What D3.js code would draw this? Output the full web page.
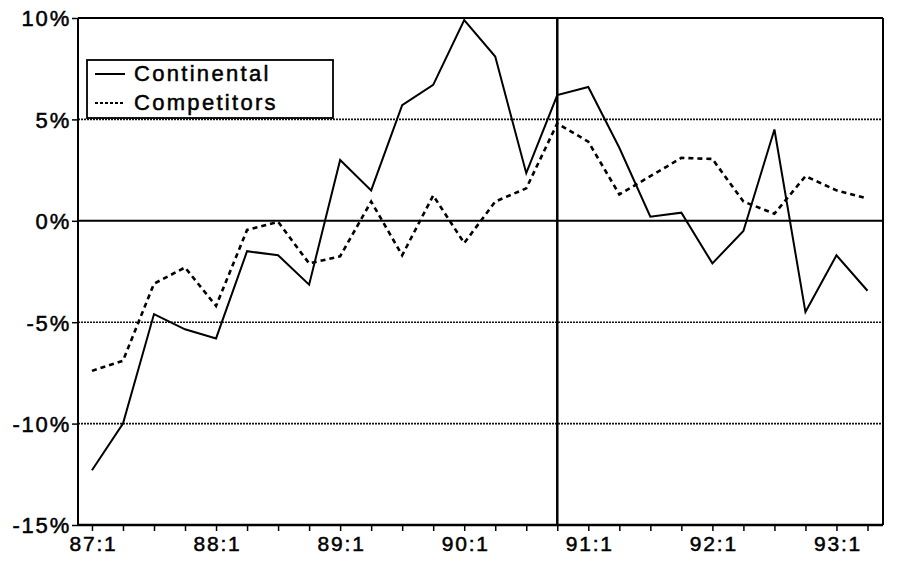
<!DOCTYPE html>
<html>
<head>
<meta charset="utf-8">
<script src="https://cdn.jsdelivr.net/npm/d3@7"></script>
<style>
  body { margin: 0; background: #fff; }
  svg text { font-family: "Liberation Sans", Arial, sans-serif; fill: #000; stroke: #000; stroke-width: 0.5px; }
</style>
</head>
<body>
<div class="chart"></div>
<script>
// quarters 87:1 .. 93:2
var quarters = ["87:1","87:2","87:3","87:4","88:1","88:2","88:3","88:4",
                "89:1","89:2","89:3","89:4","90:1","90:2","90:3","90:4",
                "91:1","91:2","91:3","91:4","92:1","92:2","92:3","92:4",
                "93:1","93:2"];
var continental = [-12.3, -10.0, -4.6, -5.35, -5.8, -1.5, -1.7, -3.15,
                   3.0, 1.5, 5.7, 6.7, 9.9, 8.1, 2.35, 6.2,
                   6.6, 3.6, 0.2, 0.4, -2.1, -0.5, 4.5, -4.5,
                   -1.7, -3.45];
var competitors = [-7.4, -6.9, -3.1, -2.3, -4.2, -0.45, -0.05, -2.1,
                   -1.75, 0.95, -1.7, 1.25, -1.1, 0.95, 1.6, 4.8,
                   3.9, 1.3, 2.2, 3.1, 3.05, 0.95, 0.35, 2.2,
                   1.5, 1.1];
var yTicks = [-15, -10, -5, 0, 5, 10];
var dottedGrid = [5, -5, -10];
var markerQuarter = "90:4";
var seriesNames = ["Continental", "Competitors"];

var svgWidth = 903;
var svgHeight = 565;
var margin = {left: 78, right: 20, top: 18, bottom: 40};

var svg = d3.select(".chart")
  .append("svg")
  .attr("width", svgWidth)
  .attr("height", svgHeight);

var x = d3.scaleLinear()
  .domain([-0.45, quarters.length - 0.5])
  .range([margin.left, svgWidth - margin.right]);
var y = d3.scaleLinear()
  .domain([-15, 10])
  .range([svgHeight - margin.bottom, margin.top]);

var x0 = x.range()[0], x1 = x.range()[1];
var yTop = y(10), yBot = y(-15);

// dotted grid lines
svg.selectAll(".grid")
  .data(dottedGrid)
  .enter()
  .append("line")
  .attr("x1", x0).attr("x2", x1)
  .attr("y1", d => y(d)).attr("y2", d => y(d))
  .attr("stroke", "#111")
  .attr("stroke-width", 1.6)
  .attr("stroke-dasharray", "2,1");

// zero line
svg.append("line")
  .attr("x1", x0).attr("x2", x1)
  .attr("y1", y(0)).attr("y2", y(0))
  .attr("stroke", "#000").attr("stroke-width", 2);

// frame
svg.append("line").attr("x1", x0).attr("x2", x1).attr("y1", yTop).attr("y2", yTop)
  .attr("stroke", "#000").attr("stroke-width", 2);
svg.append("line").attr("x1", x1).attr("x2", x1).attr("y1", yTop).attr("y2", yBot)
  .attr("stroke", "#000").attr("stroke-width", 2);

// vertical marker
var mi = quarters.indexOf(markerQuarter);
svg.append("line")
  .attr("x1", x(mi)).attr("x2", x(mi))
  .attr("y1", yTop).attr("y2", yBot)
  .attr("stroke", "#000").attr("stroke-width", 2.5);

// axes
var bottomAxis = d3.axisBottom(x)
  .tickValues(d3.range(quarters.length))
  .tickSize(6)
  .tickPadding(4)
  .tickFormat(i => quarters[i].endsWith(":1") ? quarters[i] : "");
var xg = svg.append("g")
  .attr("transform", `translate(0, ${yBot})`)
  .call(bottomAxis);
xg.select(".domain").remove();
xg.append("line").attr("x1", x0).attr("x2", x1).attr("stroke", "#000").attr("stroke-width", 2.5);
xg.selectAll(".tick line").attr("stroke", "#000").attr("stroke-width", 1.5);
xg.selectAll(".tick text")
  .attr("font-size", 21)
  .attr("letter-spacing", "1.8px")
  .attr("dy", "0.78em")
  .attr("dx", "1px");

var leftAxis = d3.axisLeft(y)
  .tickValues(yTicks)
  .tickSize(6)
  .tickPadding(1)
  .tickFormat(d => d + "%");
var yg = svg.append("g")
  .attr("transform", `translate(${x0}, 0)`)
  .call(leftAxis);
yg.select(".domain").remove();
yg.append("line").attr("y1", yTop).attr("y2", yBot).attr("stroke", "#000").attr("stroke-width", 2);
yg.selectAll(".tick line").attr("stroke", "#000").attr("stroke-width", 1.5);
yg.selectAll(".tick text")
  .attr("font-size", 22)
  .attr("letter-spacing", "1.8px")
  .attr("dy", "0.36em");

// series lines
var line = d3.line()
  .x((d, i) => x(i))
  .y(d => y(d));

svg.append("path")
  .datum(competitors)
  .attr("d", line)
  .attr("fill", "none")
  .attr("stroke", "#000")
  .attr("stroke-width", 2.6)
  .attr("stroke-dasharray", "5,4");

svg.append("path")
  .datum(continental)
  .attr("d", line)
  .attr("fill", "none")
  .attr("stroke", "#000")
  .attr("stroke-width", 2);

// legend
var legend = svg.append("g").attr("transform", "translate(87, 60)");
legend.append("rect")
  .attr("width", 246).attr("height", 58)
  .attr("fill", "#fff")
  .attr("stroke", "#000").attr("stroke-width", 1.8);
seriesNames.forEach((name, i) => {
  var ly = 14 + i * 29;
  legend.append("line")
    .attr("x1", 8).attr("x2", 38)
    .attr("y1", ly).attr("y2", ly)
    .attr("stroke", "#000")
    .attr("stroke-width", 2)
    .attr("stroke-dasharray", i == 1 ? "3,2" : null);
  legend.append("text")
    .attr("x", 47).attr("y", ly + 7)
    .attr("font-size", 22)
    .attr("letter-spacing", "2.3px")
    .text(name);
});
</script>
</body>
</html>
